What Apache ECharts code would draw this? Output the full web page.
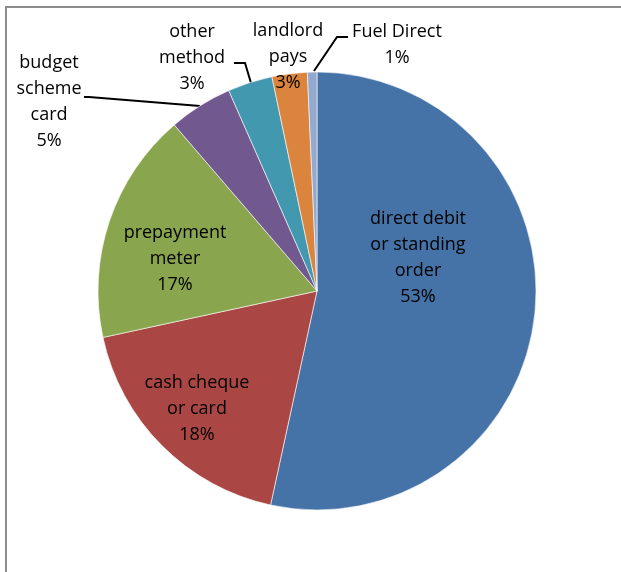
<!DOCTYPE html>
<html>
<head>
<meta charset="utf-8">
<script src="https://cdn.jsdelivr.net/npm/echarts@6/dist/echarts.min.js"></script>
<style>
  html, body { margin: 0; padding: 0; background: #fff; }
  #chart { width: 621px; height: 572px; }
</style>
</head>
<body>
<div id="chart"></div>
<script>
// payment method shares (percent)
const categories = ['direct debit\nor standing\norder', 'cash cheque\nor card', 'prepayment\nmeter', 'budget\nscheme\ncard', 'other\nmethod', 'landlord\npays', 'Fuel Direct'];
const values = [53.4, 18.2, 17.1, 4.7, 3.3, 2.6, 0.7];
const colors = ['#4572A7', '#AA4643', '#89A54E', '#71588F', '#4198AF', '#DB843D', '#93A9CF'];

// label layout (centre of each text block) and leader line elbows
const labelAt = [[418, 258], [197, 409], [175, 259], [49, 102], [192, 58], [288, 57], [397, 45]];
const leaders = {
  3: [[200, 106], [89, 97], [84, 97]],
  4: [[251, 83], [245, 63], [234, 63]],
  6: [[314, 71], [337, 37], [348, 37]]
};

const chart = echarts.init(document.getElementById('chart'));

const option = {
  animation: false,
  graphic: [{
    type: 'rect',
    shape: { x: 6, y: 7, width: 800, height: 800 },
    style: { fill: 'none', stroke: '#8c8c8c', lineWidth: 2 }
  }],
  series: [{
    type: 'pie',
    center: [317, 291],
    radius: 219,
    startAngle: 90,
    clockwise: true,
    avoidLabelOverlap: false,
    percentPrecision: 2,
    itemStyle: { borderColor: '#ffffff', borderWidth: 0.6 },
    label: {
      position: 'outside',
      color: '#000',
      fontFamily: 'Open Sans',
      fontSize: 18,
      lineHeight: 26,
      align: 'center',
      formatter: function(p) {
        return p.name + '\n' + Math.round(p.percent) + '%';
      }
    },
    labelLine: {
      show: true,
      lineStyle: { color: '#000', width: 2 }
    },
    labelLayout: function(params) {
      const i = params.dataIndex;
      const out = {
        x: labelAt[i][0],
        y: labelAt[i][1],
        align: 'center',
        verticalAlign: 'middle'
      };
      if (leaders[i]) out.labelLinePoints = leaders[i];
      return out;
    },
    data: categories.map(function(name, i) {
      return {
        name: name,
        value: values[i],
        itemStyle: { color: colors[i] },
        labelLine: { show: !!leaders[i] }
      };
    })
  }]
};

chart.setOption(option);
</script>
</body>
</html>
